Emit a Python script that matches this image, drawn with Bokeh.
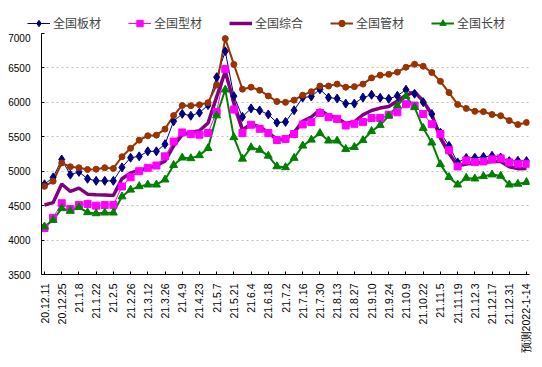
import math
from bokeh.plotting import figure
from bokeh.layouts import column
from bokeh.models import FixedTicker, Legend, LegendItem, Range1d, ColumnDataSource
from bokeh.embed import file_html
from bokeh.resources import INLINE

dates = ["20.12.11", "20.12.18", "20.12.25", "21.1.1", "21.1.8", "21.1.15", "21.1.22", "21.1.29",
         "21.2.5", "21.2.19", "21.2.26", "21.3.5", "21.3.12", "21.3.19", "21.3.26", "21.4.2",
         "21.4.9", "21.4.16", "21.4.23", "21.4.30", "21.5.7", "21.5.14", "21.5.21", "21.5.28",
         "21.6.4", "21.6.11", "21.6.18", "21.6.25", "21.7.2", "21.7.9", "21.7.16", "21.7.23",
         "21.7.30", "21.8.6", "21.8.13", "21.8.20", "21.8.27", "21.9.3", "21.9.10", "21.9.17",
         "21.9.24", "21.9.30", "21.10.9", "21.10.15", "21.10.22", "21.10.29", "21.11.5", "21.11.12",
         "21.11.19", "21.11.26", "21.12.3", "21.12.10", "21.12.17", "21.12.24", "21.12.31",
         "2022-1-7", "预测2022-1-14"]

banc = [4810, 4910, 5170, 4950, 4990, 4890, 4860, 4860, 4860, 5055,
        5196, 5216, 5289, 5289, 5392, 5725, 5833, 5805, 5850, 5960,
        6365, 6742, 6090, 5789, 5912, 5882, 5824, 5706, 5716, 5885,
        6070, 6085, 6190, 6070, 6055, 5982, 5982, 6070, 6110, 6066,
        6052, 6095, 6184, 6125, 6003, 5830, 5560, 5368, 5128, 5192,
        5196, 5208, 5223, 5200, 5147, 5152, 5147]
xingc = [4175, 4324, 4535, 4451, 4510, 4525, 4500, 4510, 4510, 4778,
         4912, 5000, 5049, 5083, 5216, 5431, 5563, 5539, 5530, 5556,
         5860, 6483, 5895, 5554, 5675, 5615, 5554, 5453, 5468, 5541,
         5679, 5713, 5845, 5786, 5760, 5664, 5688, 5713, 5772, 5772,
         5820, 5855, 5973, 5953, 5830, 5683, 5540, 5304, 5069, 5157,
         5132, 5142, 5172, 5186, 5128, 5108, 5108]
zongh = [4510, 4544, 4814, 4706, 4755, 4667, 4657, 4655, 4647, 4890,
         4975, 5010, 5049, 5083, 5147, 5368, 5529, 5563, 5588, 5700,
         6080, 6448, 6000, 5603, 5684, 5645, 5559, 5461, 5460, 5566,
         5725, 5787, 5890, 5811, 5770, 5694, 5718, 5820, 5882, 5917,
         5941, 6020, 6103, 6152, 6020, 5824, 5480, 5260, 5080, 5105,
         5118, 5128, 5140, 5140, 5065, 5037, 5040]
guanc = [4780, 4855, 5120, 5065, 5050, 5025, 5030, 5050, 5040, 5210,
         5333, 5451, 5515, 5524, 5612, 5808, 5955, 5951, 5965, 5995,
         6252, 6926, 6551, 6191, 6220, 6176, 6093, 6012, 6000, 6032,
         6105, 6155, 6237, 6237, 6265, 6220, 6228, 6265, 6355, 6395,
         6407, 6439, 6510, 6554, 6524, 6434, 6305, 6142, 5970, 5912,
         5870, 5865, 5823, 5806, 5735, 5677, 5708]
changc = [4195, 4290, 4461, 4422, 4476, 4402, 4387, 4397, 4397, 4632,
          4730, 4780, 4804, 4804, 4877, 5088, 5196, 5187, 5230, 5334,
          5809, 6184, 5492, 5180, 5345, 5309, 5223, 5069, 5056, 5192,
          5370, 5456, 5552, 5443, 5443, 5321, 5350, 5449, 5581, 5670,
          5806, 5953, 6088, 5928, 5627, 5414, 5100, 4914, 4804, 4902,
          4892, 4926, 4951, 4932, 4804, 4816, 4840]

series_names = ["全国板材", "全国型材", "全国综合", "全国管材", "全国长材"]
y_ticks = [3500, 4000, 4500, 5000, 5500, 6000, 6500, 7000]

styles = [
    dict(color="#000080", width=1, marker="diamond", size=9),
    dict(color="#FF00FF", width=1, marker="square", size=7),
    dict(color="#800080", width=3.5, marker=None, size=0),
    dict(color="#993300", width=2, marker="circle", size=6),
    dict(color="#008000", width=2, marker="triangle", size=8),
]
keys = ["banc", "xingc", "zongh", "guanc", "changc"]

x = list(range(len(dates)))
src = ColumnDataSource(dict(x=x, banc=banc, xingc=xingc, zongh=zongh, guanc=guanc, changc=changc))

p = figure(width=534, height=329, output_backend="svg", toolbar_location=None,
           x_range=Range1d(-0.35, len(dates) - 1 + 0.35), y_range=Range1d(3500, 7000),
           min_border_left=41, min_border_right=5, min_border_top=0, min_border_bottom=88)
p.outline_line_color = None
p.background_fill_color = "white"

for k, st in zip(keys, styles):
    p.line("x", k, source=src, line_color=st["color"], line_width=st["width"])
for k, st in zip(keys, styles):
    if st["marker"]:
        p.scatter("x", k, source=src, marker=st["marker"], size=st["size"], color=st["color"])

# axes
p.xgrid.visible = False
p.ygrid.ticker = FixedTicker(ticks=y_ticks)
p.ygrid.grid_line_color = "#BFBFBF"
p.ygrid.grid_line_dash = "2 3"
p.yaxis.ticker = FixedTicker(ticks=y_ticks)
p.xaxis.ticker = FixedTicker(ticks=list(range(0, len(dates), 2)))
p.xaxis.major_label_overrides = {i: dates[i] for i in range(0, len(dates), 2)}
p.xaxis.major_label_orientation = math.pi / 2
for ax in (p.xaxis, p.yaxis):
    ax.axis_line_color = "black"
    ax.axis_line_width = 1
    ax.major_tick_line_color = "black"
    ax.major_tick_in = 3
    ax.major_tick_out = 0
    ax.minor_tick_line_color = None
    ax.major_label_text_color = "black"
    ax.major_label_text_font = "Liberation Sans"
p.xaxis.major_label_text_font_size = "10.5px"
p.yaxis.major_label_text_font_size = "10px"
p.xaxis.major_label_standoff = 9
p.yaxis.major_label_standoff = 11

# legend strip above the plot (same data, kept out of its view range)
lg = figure(width=534, height=33, output_backend="svg", toolbar_location=None,
            x_range=Range1d(-1000, -999), y_range=Range1d(-1000, -999),
            x_axis_type=None, y_axis_type=None,
            min_border=0, min_border_left=0, min_border_right=0, min_border_top=0, min_border_bottom=0)
lg.grid.visible = False
lg.outline_line_color = None

if "frame_align" in lg.properties():
    lg.frame_align = False
    p.frame_align = False
    loc = (27, 2)
else:
    loc = (0, 2)

items = []
for name, k, st in zip(series_names, keys, styles):
    rs = [lg.line("x", k, source=src, line_color=st["color"], line_width=st["width"])]
    if st["marker"]:
        rs.append(lg.scatter("x", k, source=src, marker=st["marker"], size=st["size"], color=st["color"]))
    items.append(LegendItem(label=name, renderers=rs))
legend = Legend(items=items, orientation="horizontal", location=loc,
                label_text_font="Noto Sans CJK SC", label_text_font_size="12px",
                glyph_width=23, glyph_height=16, label_height=16, label_standoff=3,
                spacing=27, padding=0, margin=0, border_line_color=None, background_fill_alpha=0)
lg.add_layout(legend, "center")

layout = column(lg, p, spacing=0)
open("out.html", "w").write(file_html(layout, INLINE))
